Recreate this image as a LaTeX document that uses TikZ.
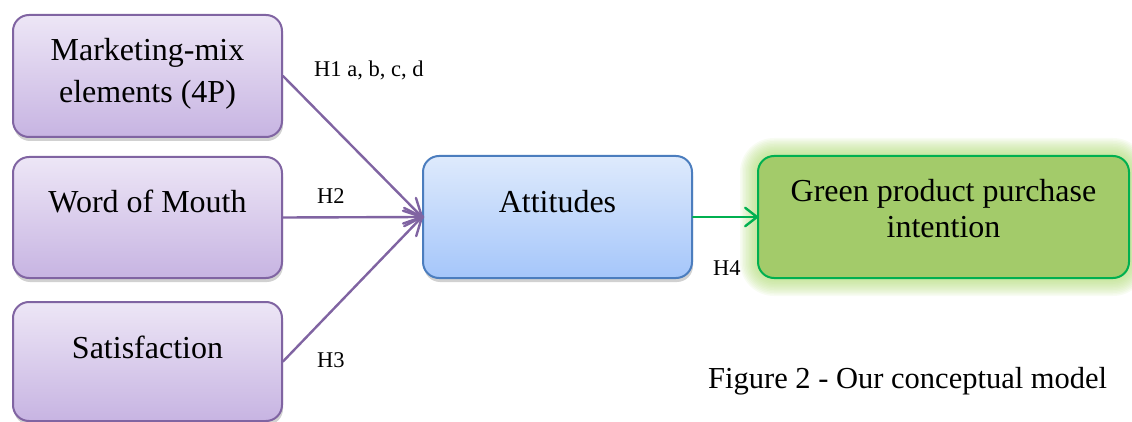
\documentclass[tikz,border=0pt]{standalone}
\usepackage{fontspec}
\setmainfont{Liberation Serif}
\usetikzlibrary{calc,shadows}
\definecolor{ptop}{RGB}{237,230,246}
\definecolor{pbot}{RGB}{199,180,226}
\definecolor{pbord}{RGB}{128,100,162}
\definecolor{btop}{RGB}{222,234,252}
\definecolor{bbot}{RGB}{165,198,250}
\definecolor{bbord}{RGB}{75,125,190}
\definecolor{gfill}{RGB}{163,203,106}
\definecolor{gbord}{RGB}{0,176,80}
\definecolor{gglow}{RGB}{175,218,115}
\tikzset{
  boxbase/.style={line width=2pt, rounded corners=16pt, minimum width=269pt, inner sep=0pt,
    drop shadow={shadow xshift=1pt, shadow yshift=-4pt, fill=black, opacity=0.18}},
  pbox/.style={boxbase, draw=pbord, top color=ptop, bottom color=pbot},
  bbox/.style={boxbase, draw=bbord, top color=btop, bottom color=bbot},
  gbox/.style={line width=2pt, rounded corners=16pt, draw=gbord, fill=gfill, inner sep=0pt},
  big/.style={font=\rmfamily\fontsize{32}{38}\selectfont, anchor=base, inner sep=0pt},
  hlab/.style={font=\rmfamily\fontsize{22.5}{27}\selectfont, anchor=base west, inner sep=0pt},
  pline/.style={draw=pbord, line width=2.4pt, line cap=round, line join=miter},
  gline/.style={draw=gbord, line width=2.4pt, line cap=round, line join=miter},
}
\begin{document}
\begin{tikzpicture}[x=1pt,y=1pt]
\useasboundingbox (0,0) rectangle (1132,-422);
% boxes
\node[pbox, minimum height=122pt] (mk) at (147.5,-76) {};
\node[pbox, minimum height=121pt] (wom) at (147.5,-217.5) {};
\node[pbox, minimum height=119pt] (sat) at (147.5,-361.5) {};
\node[bbox, minimum height=122pt] (att) at (557.5,-217) {};
% glow of green box
\foreach \i in {1,...,12}{
  \fill[gglow, opacity=0.085, rounded corners={16pt+\i*1.5pt}]
    ({758-\i*1.5},{-156+\i*1.5}) rectangle ({1129+\i*1.5},{-278-\i*1.5});
}
\node[gbox, minimum width=371pt, minimum height=122pt] (gp) at (943.5,-217) {};
% texts
\node[big] (mk1) at (147.5,-61) {Marketing-mix};
\node[big] (mk2) at (147.5,-103) {elements (4P)};
\node[big] (womt) at (147.5,-212) {Word of Mouth};
\node[big] (satt) at (147.5,-358) {Satisfaction};
\node[big] (attt) at (557.5,-213) {Attitudes};
\node[big] (gp1) at (943.5,-202) {Green product purchase};
\node[big] (gp2) at (943.5,-237) {intention};
% connectors
\foreach \s in {mk,wom,sat}{
  \draw[pline] (\s.east) -- (att.west);
  \draw[pline] ($(att.west)!20pt!27:(\s.east)$) -- (att.west) -- ($(att.west)!20pt!-27:(\s.east)$);
}
\draw[gline] (att.east) -- (gp.west);
\draw[gline] ($(gp.west)!15pt!38:(att.east)$) -- (gp.west) -- ($(gp.west)!15pt!-38:(att.east)$);
% labels
\node[hlab] (h1) at (314,-77) {H1 a, b, c, d};
\node[hlab] (h2) at (317,-204) {H2};
\node[hlab] (h3) at (317,-367) {H3};
\node[hlab] (h4) at (713,-275) {H4};
\node[font=\rmfamily\fontsize{30.5}{36}\selectfont, anchor=base west, inner sep=0pt] (cap) at (708,-388) {Figure 2 - Our conceptual model};
\end{tikzpicture}
\end{document}
